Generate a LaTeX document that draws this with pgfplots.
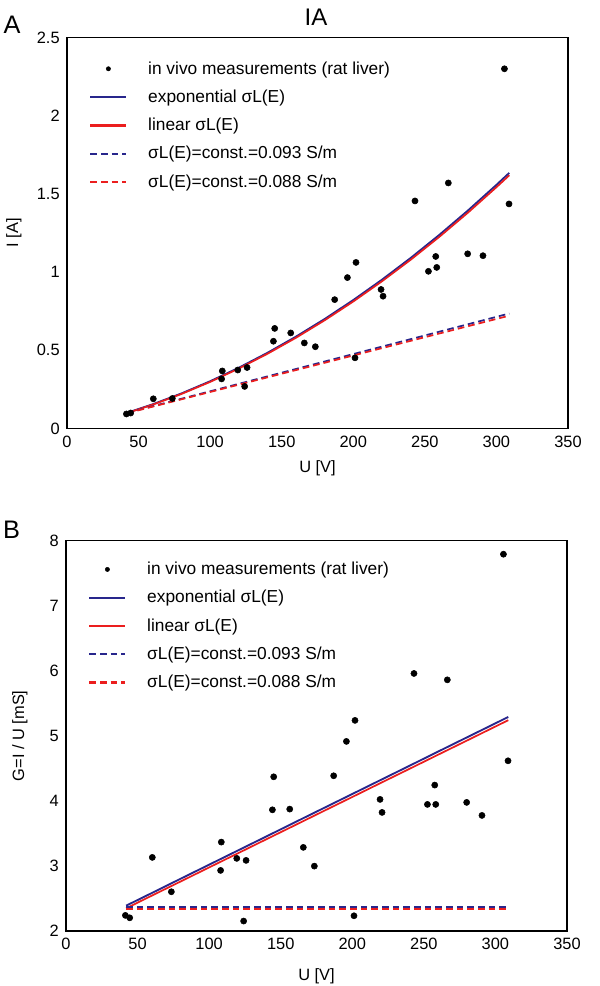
\documentclass[border=0pt]{standalone}
\usepackage{pgfplots}
\pgfplotsset{compat=1.18}
\usepackage{pgfplotstable}
\usepackage{fontspec}
\setmainfont{Liberation Sans}
\definecolor{navy}{RGB}{40,38,140}
\definecolor{myred}{RGB}{235,30,30}

\pgfplotstableread{
U I G
41.5 0.093 2.241
44.5 0.099 2.204
60.3 0.190 3.132
73.6 0.192 2.604
108.0 0.317 2.932
108.5 0.368 3.367
119.3 0.374 3.117
124.1 0.269 2.154
125.8 0.390 3.086
144.2 0.558 3.863
145.1 0.640 4.370
156.3 0.611 3.874
165.8 0.547 3.286
173.5 0.523 2.998
187.0 0.824 4.386
195.9 0.965 4.914
201.9 1.062 5.237
201.2 0.452 2.235
219.4 0.889 4.023
220.8 0.846 3.823
243.1 1.455 5.958
252.5 1.005 3.946
257.6 1.100 4.243
258.3 1.030 3.946
266.4 1.570 5.860
279.9 1.117 3.977
290.6 1.105 3.777
308.8 1.436 4.616
305.6 2.300 7.790
}\meas

\pgfplotstableread{
U Iexp Ilin Gexp Glin
42 0.1004 0.0987 2.390 2.350
60 0.1551 0.1527 2.585 2.545
80 0.2242 0.2209 2.803 2.761
100 0.3020 0.2978 3.020 2.978
120 0.3884 0.3833 3.237 3.194
140 0.4836 0.4775 3.454 3.411
160 0.5875 0.5803 3.672 3.627
180 0.7000 0.6919 3.889 3.844
200 0.8212 0.8120 4.106 4.060
220 0.9511 0.9409 4.323 4.277
240 1.0896 1.0783 4.540 4.493
260 1.2371 1.2246 4.758 4.710
280 1.3930 1.3793 4.975 4.926
300 1.5576 1.5429 5.192 5.143
309 1.6346 1.6192 5.290 5.240
}\models

\pgfplotstableread{
U Ia Ib Ga Gb
42 0.0999 0.0981 2.375 2.338
309 0.7354 0.7215 2.375 2.338
}\consts

\pgfplotsset{
  myaxis/.style={
    scale only axis,
    width=375.75pt,
    xmin=0, xmax=350,
    xtick={0,50,...,350},
    /pgf/number format/assume math mode=true,
    axis line style={line width=1.3pt},
    major tick length=0pt,
    tick label style={font=\fontsize{12.3}{14}\selectfont},
    label style={font=\fontsize{12.3}{14}\selectfont},
    xticklabel style={yshift=-2pt},
    yticklabel style={xshift=-2pt},
    legend cell align=left,
    legend image code/.code={\draw[##1, line width=1.7pt] (0pt,0pt) -- (27pt,0pt);},
    legend style={at={(axis description cs:0,1)}, anchor=north west, xshift=13.5pt,
      draw=none, fill=none, font=\fontsize{13}{15}\selectfont,
      row sep=6.3pt, column sep=13.5pt},
  },
  datast/.style={only marks, mark=*, mark size=2.3pt, black,
    legend image code/.code={\draw[##1, mark size=1.6pt] plot coordinates {(13.5pt,0pt)};}},
  expst/.style={navy, line width=1.4pt, no marks},
  linst/.style={myred, line width=1.3pt, no marks},
  ca/.style={navy, line width=1.3pt, dash pattern=on 5pt off 3pt, no marks},
  cb/.style={myred, line width=1.3pt, dash pattern=on 5pt off 3pt, no marks},
}

\begin{document}
\begin{tikzpicture}
\useasboundingbox (0,0) rectangle (450pt,-739.5pt);
\node[font=\fontsize{18}{20}\selectfont] at (237pt,-13pt) {IA};
\node[font=\fontsize{19}{21}\selectfont] at (9pt,-18.5pt) {A};
\node[font=\fontsize{19}{21}\selectfont] at (8.6pt,-397pt) {B};

\begin{axis}[myaxis,
  at={(50.25pt,-28.125pt)}, anchor=north west,
  height=293.25pt,
  ymin=0, ymax=2.5, ytick={0,0.5,...,2.5},
  xlabel={U [V]}, ylabel={I [A]},
  xlabel style={at={(axis description cs:0.5,-0.102)}, anchor=center},
  ylabel style={at={(axis description cs:-0.106,0.5)}, anchor=center},
  legend style={yshift=-13.8pt},
]
\addplot[datast] table[x=U, y=I] {\meas};
\addlegendentry{in vivo measurements (rat liver)}
\addplot[expst] table[x=U, y=Iexp] {\models};
\addlegendentry{exponential σL(E)}
\addplot[linst] table[x=U, y=Ilin] {\models};
\addlegendentry{linear σL(E)}
\addplot[ca] table[x=U, y=Ia] {\consts};
\addlegendentry{σL(E)=const.=0.093 S/m}
\addplot[cb] table[x=U, y=Ib] {\consts};
\addlegendentry{σL(E)=const.=0.088 S/m}
\end{axis}

\begin{axis}[myaxis,
  at={(49.5pt,-405.4pt)}, anchor=north west,
  height=292.9pt,
  ymin=2, ymax=8, ytick={2,3,...,8},
  xlabel={U [V]}, ylabel={G=I / U [mS]},
  xlabel style={at={(axis description cs:0.5,-0.115)}, anchor=center},
  ylabel style={at={(axis description cs:-0.092,0.5)}, anchor=center},
  legend style={yshift=-12pt},
]
\addplot[datast] table[x=U, y=G] {\meas};
\addlegendentry{in vivo measurements (rat liver)}
\addplot[expst] table[x=U, y=Gexp] {\models};
\addlegendentry{exponential σL(E)}
\addplot[linst] table[x=U, y=Glin] {\models};
\addlegendentry{linear σL(E)}
\addplot[ca] table[x=U, y=Ga] {\consts};
\addlegendentry{σL(E)=const.=0.093 S/m}
\addplot[cb] table[x=U, y=Gb] {\consts};
\addlegendentry{σL(E)=const.=0.088 S/m}
\end{axis}
\end{tikzpicture}
\end{document}
